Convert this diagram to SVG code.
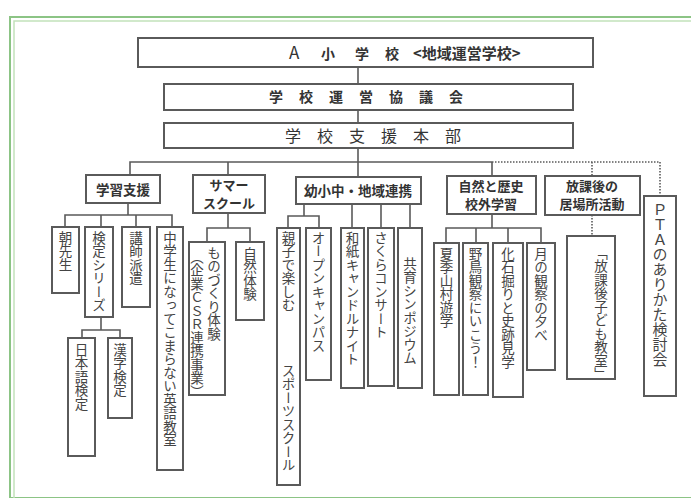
<svg xmlns="http://www.w3.org/2000/svg" width="691" height="498" viewBox="0 0 691 498">
<style>
.bx{fill:#fff;stroke:#5a5a5a;stroke-width:2}
.ln{fill:none;stroke:#5a5a5a;stroke-width:1.6}
.dt{fill:none;stroke:#5a5a5a;stroke-width:1.6;stroke-dasharray:1.5 1.5}
.t{font-family:"Noto Sans CJK JP","Noto Sans",sans-serif;fill:#333}
.b{font-weight:bold}
.c{text-anchor:middle}
.v{font-family:"Noto Sans CJK JP","Noto Sans",sans-serif;fill:#444;font-size:13.5px;writing-mode:vertical-rl}
</style>
<rect width="691" height="498" fill="#fff"/>
<rect x="10" y="17" width="690" height="481" fill="none" stroke="#8cc485" stroke-width="2"/>
<rect x="14" y="21" width="690" height="481" fill="none" stroke="#c2e2bb" stroke-width="1.5"/>

<g id="connectors">
<path class="ln" d="M358 67V84M358 110V123M358 148V177M130 175V162H492M228 162V175M492 162V176"/>
<path class="dt" d="M492 162H660V196M592 162V176M592 215V236"/>
<path class="ln" d="M128 203V215M65 227V215H172V227M101 215V227M136 215V227"/>
<path class="ln" d="M101 317V330M82 338V330H120V338"/>
<path class="ln" d="M228 213V228M207 242V228H250V242"/>
<path class="ln" d="M304 204V216M288 228V216H319V228M352 204V228M381 204V228M410 204V228"/>
<path class="ln" d="M492 214V228M446 243V228H541V243M476 228V243M508 228V243"/>
</g>

<g id="school">
<rect class="bx" x="138" y="38" width="455" height="29"/>
<text class="t" y="59"><tspan x="289" font-size="17">A</tspan><tspan class="b" x="321" font-size="14">小</tspan><tspan class="b" x="355" font-size="14">学</tspan><tspan class="b" x="385" font-size="14">校</tspan><tspan class="b" x="413" font-size="15">&lt;地域運営学校&gt;</tspan></text>
</g>
<g id="council">
<rect class="bx" x="164" y="84" width="409" height="26"/>
<text class="t b c" x="374" y="102" font-size="14" letter-spacing="16">学校運営協議会</text>
</g>
<g id="support-hq">
<rect class="bx" x="164" y="123" width="409" height="25"/>
<text class="t c" x="381" y="142" font-size="16" letter-spacing="16">学校支援本部</text>
</g>

<g id="gakushu">
<rect class="bx" x="86" y="175" width="74" height="28"/>
<text class="t b c" x="123" y="195" font-size="13.5">学習支援</text>
</g>
<g id="summer">
<rect class="bx" x="193" y="175" width="72" height="38"/>
<text class="t b c" x="229" y="190" font-size="13">サマー</text>
<text class="t b c" x="229" y="208" font-size="13">スクール</text>
</g>
<g id="renkei">
<rect class="bx" x="296" y="177" width="125" height="27"/>
<text class="t b c" x="358" y="196" font-size="13.5">幼小中・地域連携</text>
</g>
<g id="shizen">
<rect class="bx" x="447" y="176" width="89" height="38"/>
<text class="t b c" x="491" y="191" font-size="13">自然と歴史</text>
<text class="t b c" x="491" y="209" font-size="13">校外学習</text>
</g>
<g id="houkago">
<rect class="bx" x="545" y="176" width="95" height="39"/>
<text class="t b c" x="592" y="191" font-size="13">放課後の</text>
<text class="t b c" x="592" y="209" font-size="13">居場所活動</text>
</g>
<g id="pta">
<rect class="bx" x="644" y="196" width="32" height="200"/>
<text class="v" x="660" y="202" style="font-size:15px">ＰＴＡのありかた検討会</text>
</g>

<g id="asa"><rect class="bx" x="52" y="227" width="27" height="66"/><text class="v" x="65.5" y="231">朝先生</text></g>
<g id="kentei"><rect class="bx" x="85" y="227" width="28" height="90"/><text class="v" x="99" y="231">検定シリーズ</text></g>
<g id="koushi"><rect class="bx" x="122" y="227" width="28" height="80"/><text class="v" x="136" y="231">講師派遣</text></g>
<g id="eigo"><rect class="bx" x="157" y="227" width="26" height="243"/><text class="v" x="170" y="231">中学生になってこまらない英語教室</text></g>
<g id="nihongo"><rect class="bx" x="68" y="338" width="27" height="118"/><text class="v" x="81.5" y="343">日本語検定</text></g>
<g id="kanji"><rect class="bx" x="108" y="338" width="24" height="80"/><text class="v" x="120" y="343">漢字検定</text></g>

<g id="monozukuri"><rect class="bx" x="189" y="242" width="36" height="153"/><text class="v" x="214" y="246">ものづくり体験</text><text class="v" x="197" y="250">（企業ＣＳＲ連携事業）</text></g>
<g id="shizentaiken"><rect class="bx" x="236" y="242" width="28" height="78"/><text class="v" x="250" y="247">自然体験</text></g>

<g id="oyako"><rect class="bx" x="277" y="228" width="23" height="257"/><text class="v" x="288.5" y="231">親子で楽しむ</text><text class="v" x="288.5" y="364">スポーツスクール</text></g>
<g id="open"><rect class="bx" x="306" y="228" width="25" height="152"/><text class="v" x="318.5" y="231">オープンキャンパス</text></g>
<g id="washi"><rect class="bx" x="341" y="228" width="23" height="160"/><text class="v" x="352.5" y="231">和紙キャンドルナイト</text></g>
<g id="sakura"><rect class="bx" x="368" y="228" width="26" height="158"/><text class="v" x="381" y="231">さくらコンサート</text></g>
<g id="kyouiku"><rect class="bx" x="398" y="228" width="24" height="160"/><text class="v" x="410" y="257">共育シンポジウム</text></g>

<g id="natsu"><rect class="bx" x="434" y="243" width="25" height="152"/><text class="v" x="446.5" y="247">夏季山村遊学</text></g>
<g id="yachou"><rect class="bx" x="463" y="243" width="25" height="152"/><text class="v" x="475.5" y="247">野鳥観察にいこう！</text></g>
<g id="kaseki"><rect class="bx" x="493" y="243" width="30" height="154"/><text class="v" x="508" y="247">化石掘りと史跡見学</text></g>
<g id="tsuki"><rect class="bx" x="527" y="243" width="28" height="127"/><text class="v" x="541" y="247">月の観察の夕べ</text></g>

<g id="kodomo"><rect class="bx" x="567" y="236" width="48" height="143"/><text class="v" x="601" y="246">「放課後子ども教室」</text></g>
</svg>
